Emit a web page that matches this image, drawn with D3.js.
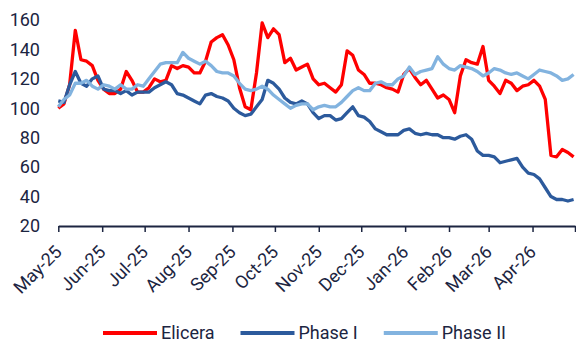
<!DOCTYPE html>
<html>
<head>
<meta charset="utf-8">
<script src="https://cdn.jsdelivr.net/npm/d3@7"></script>
<style>
  body { margin: 0; background: #fff; }
  text { font-family: Roboto, "Noto Sans", sans-serif; }
</style>
</head>
<body>
<script>
// Chart data, one value every 4 days from May-25 to Apr-26
const dates = [
  "2025-05-01","2025-05-05","2025-05-09","2025-05-13","2025-05-17","2025-05-21","2025-05-25","2025-05-29",
  "2025-06-02","2025-06-06","2025-06-10","2025-06-14","2025-06-18","2025-06-22","2025-06-26","2025-06-30",
  "2025-07-04","2025-07-08","2025-07-12","2025-07-16","2025-07-20","2025-07-24","2025-07-28",
  "2025-08-01","2025-08-05","2025-08-09","2025-08-13","2025-08-17","2025-08-21","2025-08-25","2025-08-29",
  "2025-09-02","2025-09-06","2025-09-10","2025-09-14","2025-09-18","2025-09-22","2025-09-26","2025-09-30",
  "2025-10-04","2025-10-08","2025-10-12","2025-10-16","2025-10-20","2025-10-24","2025-10-28",
  "2025-11-01","2025-11-05","2025-11-09","2025-11-13","2025-11-17","2025-11-21","2025-11-25","2025-11-29",
  "2025-12-03","2025-12-07","2025-12-11","2025-12-15","2025-12-19","2025-12-23","2025-12-27","2025-12-31",
  "2026-01-04","2026-01-08","2026-01-12","2026-01-16","2026-01-20","2026-01-24","2026-01-28",
  "2026-02-01","2026-02-05","2026-02-09","2026-02-13","2026-02-17","2026-02-21","2026-02-25",
  "2026-03-01","2026-03-05","2026-03-09","2026-03-13","2026-03-17","2026-03-21","2026-03-25","2026-03-29",
  "2026-04-02","2026-04-06","2026-04-10","2026-04-14","2026-04-18","2026-04-22","2026-04-26","2026-04-30"
];

const elicera = [
  100, 103, 116, 153, 133, 132, 129, 119, 113, 110,
  110, 113, 125, 119, 111, 111, 114, 120, 118, 119,
  129, 127, 129, 128, 124, 124, 132, 145, 148, 150,
  143, 133, 114, 101, 99, 124, 158, 148, 154, 150,
  131, 134, 126, 128, 130, 120, 116, 117, 114, 111,
  116, 139, 136, 126, 123, 117, 117, 116, 114, 113,
  111, 123, 127, 121, 116, 119, 113, 107, 109, 106,
  97, 122, 133, 131, 130, 142, 119, 115, 110, 119,
  117, 112, 115, 116, 119, 115, 106, 68, 67, 72,
  70, 67
];

const phaseI = [
  105, 104, 116, 125, 117, 115, 120, 122, 113, 112,
  112, 110, 112, 109, 111, 111, 111, 114, 116, 118,
  116, 110, 109, 107, 105, 103, 109, 110, 108, 107,
  105, 100, 97, 95, 96, 101, 106, 119, 117, 113,
  107, 104, 103, 105, 103, 97, 93, 95, 95, 92,
  93, 97, 101, 95, 94, 91, 86, 84, 82, 82,
  82, 85, 86, 83, 82, 83, 82, 82, 80, 80,
  79, 81, 82, 79, 71, 68, 68, 67, 63, 64,
  65, 66, 60, 56, 55, 52, 46, 40, 38, 38,
  37, 38
];

const phaseII = [
  101, 106, 109, 117, 117, 119, 115, 113, 116, 115,
  113, 116, 113, 113, 116, 115, 120, 125, 130, 131,
  131, 131, 138, 134, 132, 130, 132, 129, 125, 124,
  124, 122, 117, 113, 112, 113, 115, 113, 109, 106,
  103, 100, 102, 103, 103, 99, 101, 102, 101, 101,
  104, 108, 112, 114, 112, 112, 117, 118, 116, 116,
  120, 122, 128, 123, 125, 126, 127, 135, 130, 127,
  126, 129, 128, 127, 125, 122, 124, 127, 126, 124,
  123, 124, 122, 120, 123, 126, 125, 124, 122, 119,
  120, 123
];

const seriesNames = ["Elicera", "Phase I", "Phase II"];
const seriesColors = ["#ff0000", "#2c5a9c", "#82b3df"];
const yTicks = [20, 40, 60, 80, 100, 120, 140, 160];
const monthTicks = [
  "2025-05-01","2025-06-01","2025-07-01","2025-08-01","2025-09-01","2025-10-01",
  "2025-11-01","2025-12-01","2026-01-01","2026-02-01","2026-03-01","2026-04-01","2026-05-01"
];

const w = 576;
const h = 342;
const ink = "#1c2541";
const fontSize = "18px";
const parse = d3.timeParse("%Y-%m-%d");
const fmt = d3.timeFormat("%b-%y");

const svg = d3.select("body")
  .append("svg")
  .attr("width", w)
  .attr("height", h);

const x = d3.scaleTime()
  .domain([parse("2025-05-01"), parse("2026-05-01")])
  .range([58.3, 575]);

const y = d3.scaleLinear()
  .domain([20, 160])
  .range([226, 20]);

// y axis: labels only
const yAxis = svg.append("g")
  .attr("transform", "translate(58,0)")
  .call(d3.axisLeft(y).tickValues(yTicks).tickSize(0).tickPadding(18));
yAxis.select(".domain").remove();
yAxis.selectAll("text")
  .attr("fill", ink)
  .style("font-size", fontSize);

// lines
const series = [elicera, phaseI, phaseII];
const line = d3.line()
  .x((d, i) => x(parse(dates[i])))
  .y(d => y(d));

series.forEach((s, k) => {
  svg.append("path")
    .datum(s)
    .attr("fill", "none")
    .attr("stroke", seriesColors[k])
    .attr("stroke-width", 3.3)
    .attr("stroke-linejoin", "round")
    .attr("d", line);
});

// x axis
const xAxis = svg.append("g")
  .attr("transform", "translate(0,226)")
  .call(d3.axisBottom(x)
    .tickValues(monthTicks.map(parse))
    .tickSize(6)
    .tickSizeOuter(0)
    .tickFormat((d, i) => i < monthTicks.length - 1 ? fmt(d) : ""));
xAxis.select(".domain").attr("stroke", ink).attr("stroke-width", 2);
xAxis.selectAll(".tick line").attr("stroke", ink).attr("stroke-width", 1.5);
xAxis.selectAll("text")
  .attr("fill", ink)
  .style("font-size", fontSize)
  .attr("text-anchor", "end")
  .attr("x", 0)
  .attr("y", 0)
  .attr("dy", 0)
  .attr("transform", "translate(4,27) rotate(-45)");

// legend
const legend = svg.append("g").attr("transform", "translate(103,333)");
let lx = 0;
seriesNames.forEach((name, k) => {
  legend.append("line")
    .attr("x1", lx).attr("x2", lx + 54)
    .attr("y1", 0).attr("y2", 0)
    .attr("stroke", seriesColors[k])
    .attr("stroke-width", 4);
  const t = legend.append("text")
    .attr("x", lx + 58)
    .attr("dy", "0.35em")
    .attr("fill", ink)
    .style("font-size", fontSize)
    .text(name);
  lx += 58 + t.node().getComputedTextLength() + 26;
});
</script>
</body>
</html>
